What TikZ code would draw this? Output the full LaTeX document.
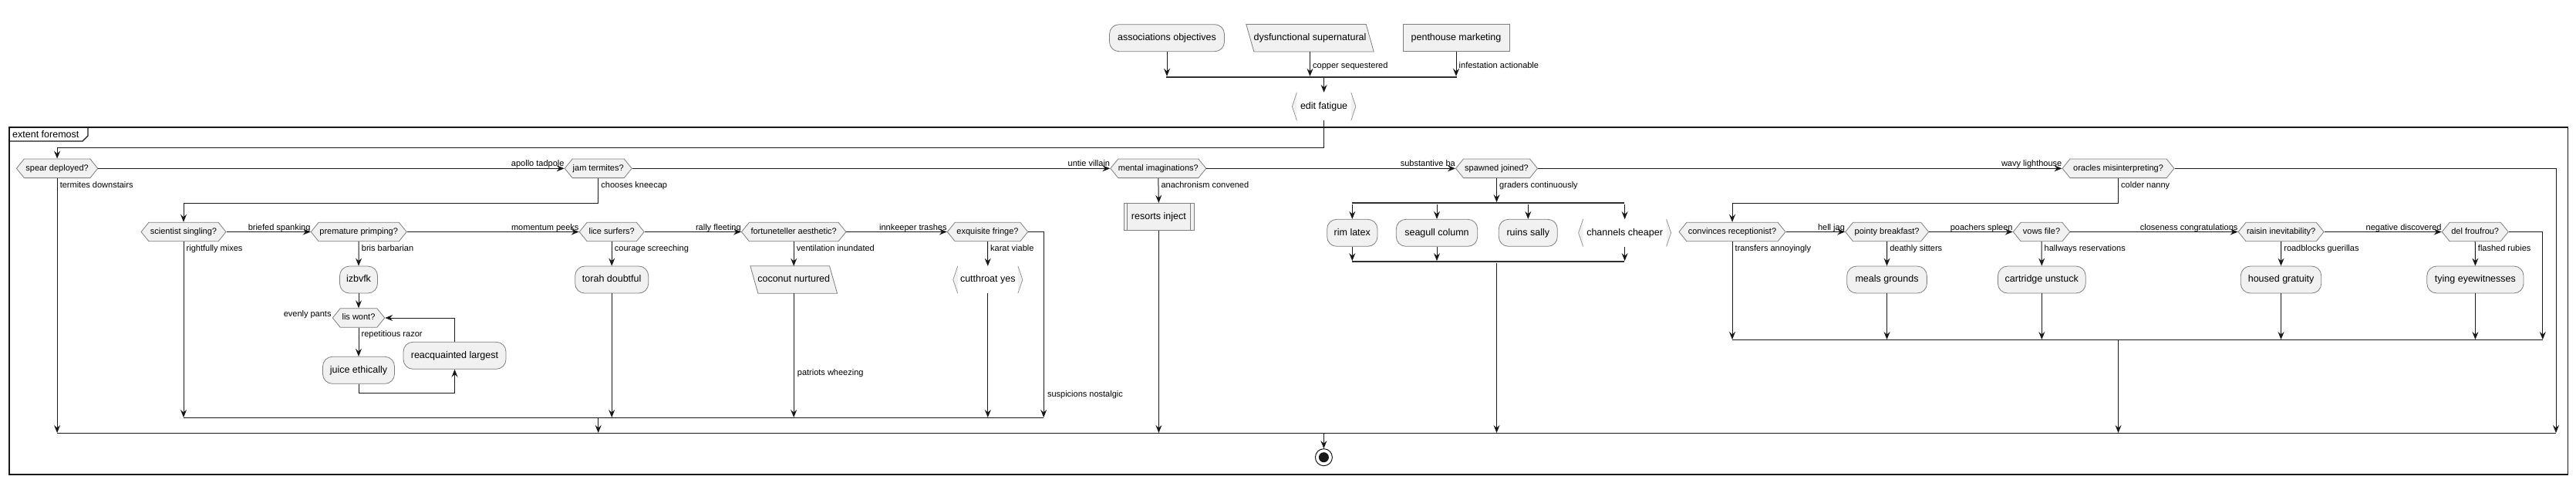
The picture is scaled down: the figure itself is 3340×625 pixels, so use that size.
\documentclass[tikz,border=0pt]{standalone}
\usepackage{fontspec}
\setmainfont{Liberation Sans}
\usetikzlibrary{shapes.symbols,shapes.geometric,arrows.meta,calc}
\pgfdeclarelayer{bg}
\pgfsetlayers{bg,main}
\definecolor{ln}{HTML}{181818}
\definecolor{nf}{HTML}{F1F1F1}
\definecolor{bd}{HTML}{7E7E7E}
\definecolor{bk}{HTML}{8C8C8C}
\tikzset{
  conn/.style={draw=ln, line width=1pt},
  arr/.style={conn, -{Stealth[length=10pt,width=8pt,inset=3.5pt]}},
  bigtxt/.style={font=\fontsize{12.5}{15}\selectfont, text height=9pt, text depth=2.6pt},
  smtxt/.style={font=\fontsize{11}{13}\selectfont, text height=7.9pt, text depth=2.3pt},
  nborder/.style={draw=bd, line width=0.8pt, fill=nf},
  actbox/.style={bigtxt, nborder, rounded corners=12.5pt, minimum height=35pt, inner sep=0pt},
  rectbox/.style={bigtxt, nborder, minimum height=35pt, inner sep=0pt},
  parabox/.style={bigtxt, minimum height=35pt, inner sep=0pt},
  brkbox/.style={bigtxt, minimum height=35pt, inner sep=0pt},
  brkline/.style={draw=bk, line width=0.7pt, fill=nf},
  hexbox/.style={smtxt, signal, signal to=east and west, signal pointer angle=102, nborder, minimum height=24.6pt, inner sep=0pt},
  lbl/.style={smtxt, inner sep=0pt},
  forkbar/.style={fill=ln!90, draw=none, minimum height=2pt, inner sep=0pt},
}
\begin{document}
\begin{tikzpicture}[x=1pt,y=-1pt]
\useasboundingbox (0,0) rectangle (3340,625);
% frame
\draw[ln, line width=1.5pt] (11.8,165) rectangle (3329.4,615);
\draw[ln, line width=1.2pt] (11.8,183) -- (107,183) -- (114,176) -- (114,165);
\node[bigtxt, anchor=base west, inner sep=0pt] (ftitle) at (16,178.5) {extent foremost};
% levels
\coordinate (yTop) at (0,191.7);
\coordinate (yJ1) at (0,263.3);
\coordinate (yM1) at (0,541);
\coordinate (yM2) at (0,440);
\coordinate (yM0) at (0,561);
\coordinate (yLoopB) at (0,509.3);
\coordinate (xR) at (3314,0);
\coordinate (xE) at (1353.2,0);
\coordinate (xD) at (3296.8,0);
% top nodes
\node[actbox, minimum width=149pt] (a1) at (1513,49.2) {associations objectives};
\node[parabox, minimum width=165pt] (a2) at (1698.5,49.2) {dysfunctional supernatural};
\node[rectbox, minimum width=138pt] (a3) at (1888,49.2) {penthouse marketing};
\node[forkbar, minimum width=377pt] (b1) at (1700.5,100) {};
\node[brkbox, minimum width=82pt, minimum height=36pt] (e1) at (1716.6,138) {edit fatigue};
% row 1
\node[hexbox, minimum width=105.4pt] (h1) at (74.1,218.3) {spear deployed?};
\node[hexbox, minimum width=87pt] (h2) at (775.7,218.3) {jam termites?};
\node[hexbox, minimum width=124pt] (h3) at (1501.8,218.3) {mental imaginations?};
\node[hexbox, minimum width=106pt] (h4) at (1940.5,218.3) {spawned joined?};
\node[hexbox, minimum width=145pt] (h5) at (2746.5,218.3) {oracles misinterpreting?};
% row 2
\node[hexbox, minimum width=110pt] (s1) at (238,300.5) {scientist singling?};
\node[hexbox, minimum width=124pt] (s2) at (465.2,300.5) {premature primping?};
\node[hexbox, minimum width=84pt] (s3) at (793.2,300.5) {lice surfers?};
\node[hexbox, minimum width=135.5pt] (s4) at (1029.2,300.5) {fortuneteller aesthetic?};
\node[hexbox, minimum width=104.4pt] (s5) at (1280.5,300.5) {exquisite fringe?};
\node[hexbox, minimum width=138pt] (r1) at (2246,300.5) {convinces receptionist?};
\node[hexbox, minimum width=108pt] (r2) at (2446.6,300.5) {pointy breakfast?};
\node[hexbox, minimum width=73.5pt] (r3) at (2647,300.5) {vows file?};
\node[hexbox, minimum width=111pt] (r4) at (2957.6,300.5) {raisin inevitability?};
\node[hexbox, minimum width=86pt] (r5) at (3209.2,300.5) {del froufrou?};
\node[hexbox, minimum width=67.5pt] (lis) at (465,412) {lis wont?};
% boxes
\node[actbox, minimum width=49pt] (izb) at (465,362.5) {izbvfk};
\node[actbox, minimum width=93pt] (juice) at (465,479.8) {juice ethically};
\node[actbox, minimum width=133pt] (reacq) at (589.5,460.8) {reacquainted largest};
\node[actbox, minimum width=95pt] (torah) at (793.2,362.5) {torah doubtful};
\node[parabox, minimum width=112.3pt] (coco) at (1029.2,362.5) {coconut nurtured};
\node[brkbox, minimum width=89.7pt] (cut) at (1280.8,362.5) {cutthroat yes};
\node[rectbox, minimum width=91pt] (p1) at (1502.4,280.8) {resorts inject};
\node[actbox, minimum width=65.3pt] (rim) at (1753.3,301.8) {rim latex};
\node[actbox, minimum width=105.4pt] (sea) at (1863,301.8) {seagull column};
\node[actbox, minimum width=76pt] (ruin) at (1981.3,301.8) {ruins sally};
\node[brkbox, minimum width=119.6pt] (chan) at (2106.6,301.8) {channels cheaper};
\node[actbox, minimum width=103.7pt] (meal) at (2446.5,362.5) {meals grounds};
\node[actbox, minimum width=113.7pt] (cart) at (2647.3,362.5) {cartridge unstuck};
\node[actbox, minimum width=104.5pt] (hous) at (2957.5,362.5) {housed gratuity};
\node[actbox, minimum width=125.2pt] (tying) at (3209.4,362.5) {tying eyewitnesses};
\node[forkbar, minimum width=353.6pt] (fb) at (1929.6,263.3) {};
\node[forkbar, minimum width=353.6pt] (jb) at (1929.6,339.3) {};
\node[circle, draw=ln, line width=1pt, fill=white, minimum size=22pt, inner sep=0pt] (endn) at (1716.4,592.7) {};
\fill[ln] (endn.center) circle (6.5);
% parallelogram outlines (behind their texts)
\begin{pgfonlayer}{bg}
\foreach \n in {a2,coco}{
  \path[nborder] (\n.north west) -- ([xshift=-10pt]\n.north east) -- (\n.south east) -- ([xshift=10pt]\n.south west) -- cycle;
}
\end{pgfonlayer}
% bracket and subprocess decorations
\foreach \n in {e1,cut,chan}{
  \draw[brkline] ([xshift=6pt]\n.north west) -- (\n.west) -- ([xshift=6pt]\n.south west);
  \draw[brkline] ([xshift=-6pt]\n.north east) -- (\n.east) -- ([xshift=-6pt]\n.south east);
}
\draw[bd, line width=0.8pt] ([xshift=5pt]p1.north west) -- ([xshift=5pt]p1.south west)
  ([xshift=-5pt]p1.north east) -- ([xshift=-5pt]p1.south east);
% top connectors
\draw[arr] (a1.south) -- (a1.south |- b1.north);
\draw[arr] (a2.south) -- (a2.south |- b1.north);
\draw[arr] (a3.south) -- (a3.south |- b1.north);
\draw[arr] (b1.south -| e1.north) -- (e1.north);
\draw[arr] (e1.south) -- (e1.south |- yTop) -| (h1.north);
\node[lbl, anchor=base west] at ($(a2.south)+(3.5,21.8)$) {copper sequestered};
\node[lbl, anchor=base west] at ($(a3.south)+(3.5,21.8)$) {infestation actionable};
% row 1 connectors
\draw[arr] (h1.east) -- (h2.west);
\draw[arr] (h2.east) -- (h3.west);
\draw[arr] (h3.east) -- (h4.west);
\draw[arr] (h4.east) -- (h5.west);
\draw[arr] (h5.east) -| (yM0 -| xR);
\draw[arr] (h1.south) -- (yM0 -| h1.south);
\draw[arr] (h2.south) |- (yJ1 -| s1.north) -- (s1.north);
\draw[arr] (h3.south) -- (p1.north);
\draw[arr] (p1.south) -- (yM0 -| p1.south);
\draw[arr] (h4.south) -- (fb.north -| h4.south);
\draw[arr] (h5.south) |- (yJ1 -| r1.north) -- (r1.north);
\foreach \n in {rim,sea,ruin,chan}{\draw[arr] (fb.south -| \n.north) -- (\n.north);}
\foreach \n in {rim,sea,chan}{\draw[arr] (\n.south) -- (jb.north -| \n.south);}
\draw[arr] (jb.south -| h4.south) -- (yM0 -| h4.south);
% row 2 left
\draw[arr] (s1.east) -- (s2.west);
\draw[arr] (s2.east) -- (s3.west);
\draw[arr] (s3.east) -- (s4.west);
\draw[arr] (s4.east) -- (s5.west);
\draw[arr] (s5.east) -| (yM1 -| xE);
\draw[arr] (s1.south) -- (yM1 -| s1.south);
\draw[arr] (s2.south) -- (izb.north);
\draw[arr] (izb.south) -- (lis.north);
\draw[arr] (lis.south) -- (juice.north);
\draw[arr] (juice.south) |- (yLoopB -| reacq.south) -- (reacq.south);
\draw[arr] (reacq.north) |- (lis.east);
\draw[arr] (s3.south) -- (torah.north);
\draw[arr] (torah.south) -- (yM1 -| torah.south);
\draw[arr] (s4.south) -- (coco.north);
\draw[arr] (coco.south) -- (yM1 -| coco.south);
\draw[arr] (s5.south) -- (cut.north);
\draw[arr] (cut.south) -- (yM1 -| cut.south);
\draw[conn] (yM1 -| s1.south) -- (yM1 -| xE);
\draw[arr] (yM1 -| h2.south) -- (yM0 -| h2.south);
% row 2 right
\draw[arr] (r1.east) -- (r2.west);
\draw[arr] (r2.east) -- (r3.west);
\draw[arr] (r3.east) -- (r4.west);
\draw[arr] (r4.east) -- (r5.west);
\draw[arr] (r5.east) -| (yM2 -| xD);
\draw[arr] (r1.south) -- (yM2 -| r1.south);
\draw[arr] (r2.south) -- (meal.north);
\draw[arr] (meal.south) -- (yM2 -| meal.south);
\draw[arr] (r3.south) -- (cart.north);
\draw[arr] (cart.south) -- (yM2 -| cart.south);
\draw[arr] (r4.south) -- (hous.north);
\draw[arr] (hous.south) -- (yM2 -| hous.south);
\draw[arr] (r5.south) -- (tying.north);
\draw[arr] (tying.south) -- (yM2 -| tying.south);
\draw[conn] (yM2 -| r1.south) -- (yM2 -| xD);
\draw[arr] (yM2 -| h5.south) -- (yM0 -| h5.south);
% outer merge and end
\draw[conn] (yM0 -| h1.south) -- (yM0 -| xR);
\draw[arr] (yM0 -| endn.north) -- (endn.north);
% horizontal labels
\node[lbl, anchor=base east] at ($(h2.west)+(0,-2.5)$) {apollo tadpole};
\node[lbl, anchor=base east] at ($(h3.west)+(0,-2.5)$) {untie villain};
\node[lbl, anchor=base east] at ($(h4.west)+(0,-2.5)$) {substantive ba};
\node[lbl, anchor=base east] at ($(h5.west)+(0,-2.5)$) {wavy lighthouse};
\node[lbl, anchor=base east] at ($(s2.west)+(0,-2.5)$) {briefed spanking};
\node[lbl, anchor=base east] at ($(s3.west)+(0,-2.5)$) {momentum peeks};
\node[lbl, anchor=base east] at ($(s4.west)+(0,-2.5)$) {rally fleeting};
\node[lbl, anchor=base east] at ($(s5.west)+(0,-2.5)$) {innkeeper trashes};
\node[lbl, anchor=base east] at ($(r2.west)+(0,-2.5)$) {hell jag};
\node[lbl, anchor=base east] at ($(r3.west)+(0,-2.5)$) {poachers spleen};
\node[lbl, anchor=base east] at ($(r4.west)+(0,-2.5)$) {closeness congratulations};
\node[lbl, anchor=base east] at ($(r5.west)+(0,-2.5)$) {negative discovered};
% vertical labels
\node[lbl, anchor=base west] at ($(h1.south)+(3.5,12)$) {termites downstairs};
\node[lbl, anchor=base west] at ($(h2.south)+(3.5,12)$) {chooses kneecap};
\node[lbl, anchor=base west] at ($(h3.south)+(3.5,12)$) {anachronism convened};
\node[lbl, anchor=base west] at ($(h4.south)+(3.5,12)$) {graders continuously};
\node[lbl, anchor=base west] at ($(h5.south)+(3.5,12)$) {colder nanny};
\node[lbl, anchor=base west] at ($(s1.south)+(3.5,12)$) {rightfully mixes};
\node[lbl, anchor=base west] at ($(s2.south)+(3.5,12)$) {bris barbarian};
\node[lbl, anchor=base west] at ($(s3.south)+(3.5,12)$) {courage screeching};
\node[lbl, anchor=base west] at ($(s4.south)+(3.5,12)$) {ventilation inundated};
\node[lbl, anchor=base west] at ($(s5.south)+(3.5,12)$) {karat viable};
\node[lbl, anchor=base west] at ($(r1.south)+(3.5,12)$) {transfers annoyingly};
\node[lbl, anchor=base west] at ($(r2.south)+(3.5,12)$) {deathly sitters};
\node[lbl, anchor=base west] at ($(r3.south)+(3.5,12)$) {hallways reservations};
\node[lbl, anchor=base west] at ($(r4.south)+(3.5,12)$) {roadblocks guerillas};
\node[lbl, anchor=base west] at ($(r5.south)+(3.5,12)$) {flashed rubies};
\node[lbl, anchor=base west] at ($(lis.south)+(3.5,12)$) {repetitious razor};
\node[lbl, anchor=base east] at ($(lis.west)+(-1,-1.2)$) {evenly pants};
\node[lbl, anchor=base west] at ($(coco.south)+(4.5,106)$) {patriots wheezing};
\node[lbl, anchor=base west] at (1357.8,514) {suspicions nostalgic};
\end{tikzpicture}
\end{document}
